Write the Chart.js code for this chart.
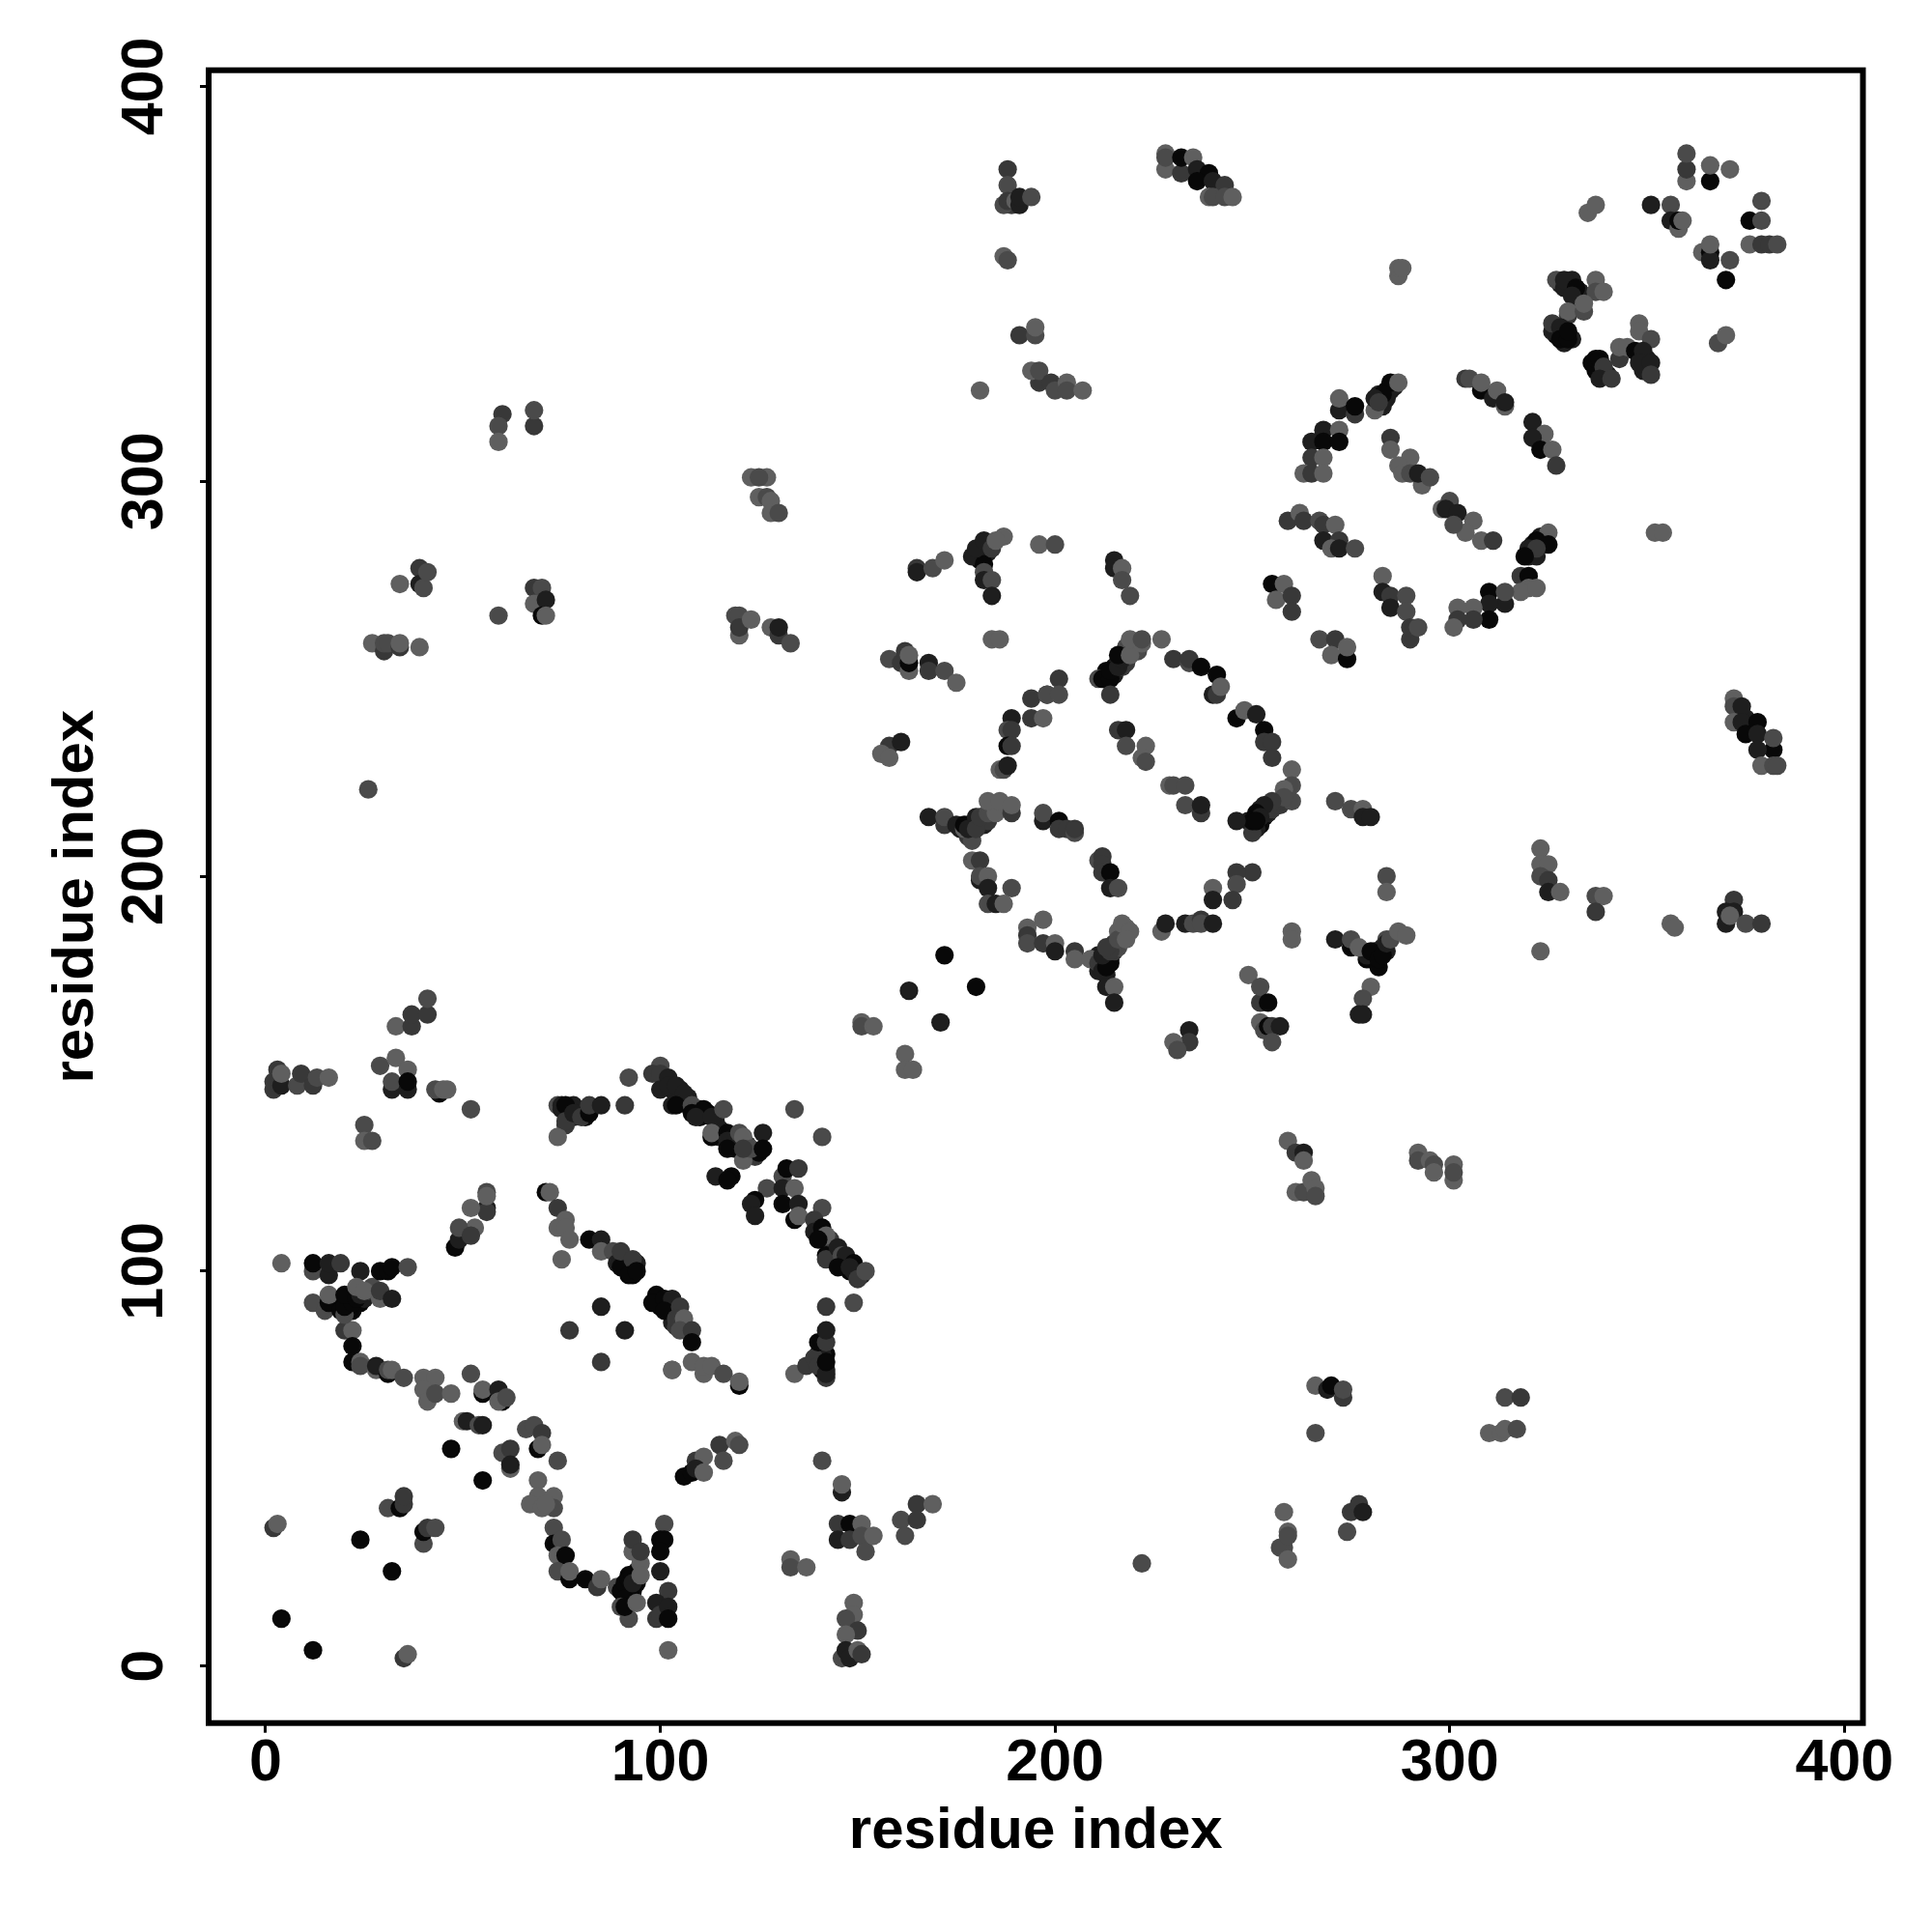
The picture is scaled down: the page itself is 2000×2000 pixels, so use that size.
<!DOCTYPE html>
<html>
<head>
<meta charset="utf-8">
<title>residue contacts</title>
<script src="https://cdn.jsdelivr.net/npm/chart.js@4/dist/chart.umd.min.js"></script>
<style>
  html, body { margin: 0; background: #fff; }
  #wrap { width: 2000px; height: 2000px; }
</style>
</head>
<body>
<div id="wrap"><canvas id="contactMap" width="2000" height="2000"></canvas></div>
<script>
// each contact is [residue i, residue j, strength], strength 0 (weak) .. 4 (strong)
const denseBands = [[18,91,4],[19,92,4],[21,90,4],[21,93,4],[22,90,4],[24,92,4],[25,93,3],[26,95,2],[27,96,1],[92,19,4],[92,20,4],[93,19,4],[94,21,4],[94,24,3],[91,19,4],[92,18,4],[92,23,4],[101,148,3],[103,146,4],[104,145,3],[105,146,3],[105,144,3],[106,143,4],[107,144,3],[107,142,3],[110,139,4],[110,141,3],[112,140,4],[114,138,3],[115,136,3],[115,134,3],[119,133,3],[119,131,4],[122,132,2],[124,129,2],[125,130,4],[140,111,3],[140,110,4],[141,108,3],[143,106,3],[143,108,2],[144,104,4],[146,103,4],[147,102,3],[148,100,4],[149,100,3],[151,99,3],[150,100,3],[91,103,3],[92,102,3],[92,101,3],[93,101,3],[94,102,3],[93,99,4],[100,93,4],[102,92,3],[102,90,4],[103,89,3],[103,87,3],[104,86,2],[100,91,4],[141,75,4],[142,75,3],[141,77,3],[142,79,4],[141,79,3],[140,79,3],[213,251,3],[213,252,4],[215,251,3],[215,253,4],[216,254,3],[217,253,2],[218,254,2],[218,256,1],[218,258,1],[219,258,1],[220,258,2],[221,257,1],[252,217,3],[252,213,4],[253,215,4],[254,217,3],[254,216,3],[255,217,2],[256,218,2],[257,218,2],[257,219,2],[249,214,3],[251,212,3],[176,212,3],[178,210,2],[178,213,3],[179,211,2],[179,213,3],[181,213,3],[182,213,3],[182,215,2],[183,214,2],[184,216,2],[185,218,1],[211,176,3],[211,180,3],[212,178,4],[213,175,3],[213,179,3],[214,179,3],[214,178,4],[215,181,2],[215,183,2],[216,182,1],[216,186,0],[218,187,0],[279,179,4],[280,179,4],[281,181,3],[281,180,4],[282,181,4],[283,182,3],[284,181,3],[279,180,3],[282,177,4],[284,184,1],[180,281,4],[181,282,4],[181,280,4],[183,284,3],[183,282,3],[282,322,3],[283,320,4],[284,323,4],[284,321,3],[285,323,3],[286,324,3],[283,319,3],[320,281,3],[321,282,4],[321,284,3],[323,284,4],[323,286,3],[324,285,3],[322,281,3],[328,350,3],[330,350,3],[331,351,3],[331,348,3],[333,348,3],[333,346,3],[327,337,4],[329,337,4],[327,339,4],[329,335,3],[331,336,3],[332,344,2],[348,332,3],[349,331,4],[350,329,3],[350,331,3],[349,328,3],[338,329,4],[339,327,3],[340,327,3],[336,330,4],[375,240,3],[376,238,4],[377,237,3],[77,141,4],[78,142,3],[79,141,3],[80,140,3],[81,139,4],[78,139,3],[189,370,2]];
const farLowerLeft = [[4,12,4],[12,4,4],[35,2,2],[36,3,0],[2,35,2],[3,36,0],[24,32,4],[32,24,4],[31,40,1],[34,40,4],[35,41,2],[35,43,2],[40,31,1],[40,34,4],[41,35,2],[43,35,1],[55,47,4],[47,55,4]];
const strandLowerLeft = [[52,74,1],[55,69,4],[55,70,0],[59,70,3],[60,67,4],[59,67,0],[61,68,1],[50,62,0],[51,62,3],[54,61,1],[55,61,3],[66,60,1],[68,61,1],[70,59,2],[69,55,4],[70,56,0],[74,52,1],[60,54,1],[62,55,2],[62,50,0],[62,51,3],[69,47,0],[69,43,0],[73,43,0],[73,40,1],[67,41,0],[70,40,0],[71,41,0],[73,35,1],[73,31,4],[75,32,1],[74,28,0],[76,28,4],[74,24,1],[77,22,4],[77,24,0],[81,22,4],[84,20,2],[85,22,0],[89,20,1],[90,19,4],[91,21,4],[92,22,4],[93,23,4],[91,17,4],[93,21,3],[95,26,0],[95,23,0],[93,29,0],[93,32,2],[95,29,2],[90,15,1],[92,12,1],[91,15,4],[94,16,0],[101,36,1],[100,32,4],[101,32,4],[100,29,4],[100,24,3],[102,19,2],[99,12,2],[99,16,3],[100,13,2],[102,15,3],[102,12,4],[102,4,0]];
const hookLowerLeft = [[20,85,2],[22,85,0],[22,81,4],[22,77,4],[24,77,0],[24,76,1],[28,75,0],[28,76,3],[31,74,4],[31,75,1],[32,75,0],[35,73,1],[40,73,0],[43,73,0],[40,70,0],[41,67,0],[43,69,1],[47,69,0],[4,102,0],[12,100,1],[12,102,4],[16,99,3],[16,102,3],[19,102,2],[24,100,3],[29,100,4],[31,100,4],[32,101,4],[36,101,1],[12,92,1],[15,90,1],[16,92,4],[16,94,0],[19,90,4],[20,89,1],[20,91,4],[22,92,4],[20,94,4],[23,93,4],[24,94,3],[23,96,0],[25,95,0],[29,93,0],[29,95,2],[32,93,3]];
const patchesUpperLeft = [[2,146,2],[2,148,2],[3,151,2],[4,147,3],[4,150,0],[8,147,1],[9,150,2],[12,147,2],[13,149,1],[16,149,0],[29,152,1],[33,154,0],[36,151,0],[32,146,3],[32,148,1],[36,146,3],[36,148,4],[33,162,0],[37,162,2],[37,165,2],[41,165,2],[41,169,1],[44,145,4],[43,146,1],[45,146,0],[46,146,0],[52,141,1],[25,137,1],[25,133,0],[27,133,1]];
const helixUpperA = [[76,137,2],[74,134,0],[74,142,1],[75,142,3],[75,141,3],[76,142,4],[76,138,2],[78,140,3],[80,139,2],[82,140,4],[82,142,2],[85,142,3],[91,142,2],[92,149,1],[71,120,4],[72,120,0],[74,116,2],[76,113,0],[74,111,0],[76,111,0],[77,108,0],[75,103,0],[82,108,4],[85,108,3],[85,105,0],[88,105,1],[89,102,3],[90,101,4],[90,105,2],[93,103,2],[92,99,4],[94,100,4],[85,91,3],[77,85,2],[91,85,3],[85,77,2],[103,75,0]];
const bridgeLower = [[56,116,3],[56,115,2],[56,120,1],[56,119,0],[52,116,0],[53,111,0],[48,106,4],[49,108,3],[49,111,1],[52,109,2]];
const helixUpperB = [[100,152,1],[98,150,2],[100,150,2],[102,149,3],[100,146,3],[102,147,3],[104,147,3],[106,145,3],[103,142,3],[104,142,4],[108,142,1],[108,140,4],[111,141,4],[109,139,3],[113,139,3],[116,141,1],[113,134,4],[113,135,0],[117,135,4],[117,133,3],[117,131,4],[120,135,1],[121,134,0],[126,135,3],[121,128,0],[123,131,1],[121,131,2],[126,131,4],[134,141,1],[141,134,1],[114,124,3],[118,124,4],[117,123,4],[131,124,1],[132,126,4],[135,126,2],[127,121,1],[131,121,3],[134,121,0],[131,117,4],[135,117,3],[124,118,4],[123,117,3],[124,114,3],[134,113,4],[135,114,0],[141,116,1],[139,113,2],[139,110,3],[141,111,4],[142,109,0],[140,108,4],[142,104,4],[142,103,2],[145,106,3],[146,104,1],[147,104,3],[145,101,4],[149,102,4],[148,101,3],[150,98,2],[152,100,1],[149,92,1],[142,91,2]];
const helixInner = [[99,94,4],[98,92,4],[101,93,4],[103,93,3],[101,90,4],[105,91,2],[104,88,2],[106,88,0],[105,85,1],[108,85,2],[108,82,4],[108,77,0],[103,75,0],[111,74,0],[111,76,0],[113,76,0],[116,74,1],[120,71,4],[120,72,0],[134,74,0],[137,76,2],[139,78,2],[140,76,2],[142,73,2],[142,74,3],[142,77,4],[140,82,4],[142,82,2],[142,85,3]];
const bottomMiddle = [[115,56,2],[119,57,0],[120,56,1],[116,52,1],[109,52,2],[111,53,0],[106,48,4],[108,49,4],[109,50,3],[111,49,0],[141,52,1],[146,44,3],[146,46,0],[145,36,2],[148,36,4],[145,32,3],[148,32,2],[151,36,0],[151,33,1],[152,29,1],[154,33,0],[133,27,0],[133,25,1],[137,25,0],[149,16,0],[149,13,0],[147,12,1],[150,9,2],[147,8,0],[146,2,1],[147,4,3],[148,2,3],[150,4,0],[151,3,2],[165,41,2],[169,41,0],[161,37,1],[165,37,2],[162,33,1]];
const bottomRight = [[222,26,1],[258,39,0],[259,34,0],[257,30,1],[258,30,1],[259,33,1],[259,27,0],[275,39,2],[277,41,2],[278,39,3],[274,34,1],[266,71,0],[269,70,3],[270,71,4],[273,68,2],[273,70,1],[266,59,1],[310,59,0],[313,59,0],[314,60,0],[317,60,1],[314,68,1],[318,68,2]];
const sparseMiddle = [[180,172,4],[172,180,4],[163,171,3],[171,163,3],[151,163,0],[151,162,1],[154,162,0],[162,155,0],[162,151,0],[164,151,0],[26,222,1],[259,133,0],[261,130,2],[263,130,3],[263,128,0],[261,120,0],[263,120,1],[265,123,0],[266,121,0],[266,119,1],[292,130,0],[292,128,1],[295,128,0],[296,127,1],[296,125,0],[301,127,0],[301,123,0],[301,125,1]];
const ringLower = [[193,187,0],[193,185,2],[193,183,1],[197,183,2],[200,183,0],[200,181,3],[205,181,2],[205,179,0],[197,189,0],[209,179,0],[211,178,2],[212,176,3],[213,177,4],[212,180,3],[214,181,2],[213,182,2],[216,184,1],[217,188,0],[219,186,0],[218,184,0],[213,172,3],[215,172,0],[215,168,3],[227,186,0],[228,188,3],[233,188,3],[235,188,1],[237,189,2],[237,188,1],[240,188,3],[260,186,0],[260,184,0],[271,184,3],[275,182,4],[275,184,1],[277,182,0],[280,181,4],[282,179,4],[283,180,4],[284,183,3],[285,184,1],[287,186,0],[289,185,0],[249,175,0],[252,168,2],[252,172,1],[254,168,4],[252,163,0],[253,161,1],[254,162,4],[255,162,2],[257,162,3],[255,158,1],[234,161,3],[234,158,2],[230,158,0],[231,156,1],[280,172,0],[278,169,1],[277,165,3],[278,165,3],[271,219,1],[275,217,1],[278,217,0],[278,215,3],[280,215,3],[284,200,1],[284,196,0]];
const ringMiddle = [[165,278,2],[165,277,3],[169,278,1],[172,280,0],[179,281,3],[182,279,4],[180,283,3],[182,285,3],[184,283,2],[182,277,1],[182,275,3],[184,275,1],[184,271,3],[187,286,0],[185,285,0],[196,284,0],[200,284,1],[215,280,3],[215,278,3],[217,278,0],[217,275,1],[219,271,1],[184,260,0],[186,260,0],[158,255,1],[161,254,2],[162,257,2],[163,252,0],[163,254,4],[163,256,0],[168,254,3],[168,252,2],[172,252,1],[175,249,0],[201,250,2],[194,245,2],[198,246,2],[198,246,1],[201,246,1],[194,240,2],[197,240,0],[189,240,3],[188,237,1],[189,237,2],[188,233,4],[189,233,2],[186,227,0],[187,227,1],[188,228,3],[158,233,2],[161,234,3],[156,231,0],[158,230,0],[211,250,1],[212,250,4],[214,250,4],[214,252,4],[216,253,3],[217,255,3],[216,256,4],[219,256,0],[219,260,0],[222,259,0],[222,260,1],[227,260,0],[214,246,2],[230,255,2],[234,254,1],[234,255,2],[237,253,4],[241,251,4],[240,246,3],[241,246,2],[242,248,0],[246,240,4],[248,242,0],[251,241,3],[253,237,4],[253,234,2],[255,234,2],[255,230,2],[216,237,2],[218,237,3],[218,233,1],[223,233,0],[222,230,0],[223,229,1],[229,223,0],[230,223,1],[233,223,1],[233,218,1],[237,216,2],[237,218,3],[260,227,0],[260,223,1],[258,222,0],[260,219,1],[258,220,1],[255,219,2],[253,218,3],[251,216,4],[252,215,3],[250,211,2],[250,214,4],[251,214,4],[246,214,3]];
const ringInner = [[168,215,3],[172,213,2],[172,215,1],[175,213,3],[177,212,0],[177,213,4],[179,209,1],[178,212,3],[180,215,3],[180,212,2],[181,215,2],[183,216,1],[185,216,0],[183,219,0],[186,219,0],[189,216,2],[189,218,0],[197,214,3],[197,216,1],[201,214,4],[201,212,2],[203,212,2],[205,211,1],[205,212,2],[179,204,0],[181,204,2],[181,199,3],[181,200,1],[183,200,0],[183,197,3],[189,197,1],[183,193,1],[185,193,3],[187,193,0],[211,204,1],[212,205,2],[212,203,2],[212,201,2],[214,201,4],[214,197,3],[216,197,1],[250,201,2],[246,201,2],[240,197,0],[246,198,1],[245,194,2],[240,194,3]];
const topMiddle = [[188,379,2],[188,375,1],[187,370,1],[188,371,2],[190,371,0],[191,370,3],[191,372,3],[194,372,1],[187,357,0],[188,356,1],[191,337,2],[195,337,1],[195,339,0],[181,323,0],[196,325,2],[194,328,0],[196,328,1],[199,325,2],[200,323,1],[203,325,0],[203,323,1],[207,323,0],[228,379,0],[228,383,0],[228,382,1],[232,378,2],[232,382,4],[235,382,0],[236,379,3],[239,378,4],[236,376,4],[240,376,3],[243,375,2],[239,372,0],[240,372,1],[243,372,1],[245,372,0]];
const topLeft = [[60,317,2],[59,314,1],[59,310,0],[68,314,2],[68,318,1],[123,301,0],[127,301,0],[125,301,1],[125,296,0],[127,296,1],[128,295,0],[128,292,0],[130,292,1],[34,274,0],[39,278,2],[39,274,3],[40,273,1],[41,277,1],[68,273,2],[70,273,1],[68,269,0],[71,270,3],[70,266,4],[71,266,0],[59,266,1],[27,259,0],[30,257,2],[30,259,1],[31,259,1],[34,258,2],[34,259,0],[39,258,0],[119,266,1],[120,266,1],[120,261,0],[120,263,2],[123,265,0],[128,263,0],[130,261,2],[130,263,3],[133,259,1]];
const cornerRight = [[360,376,0],[360,379,2],[360,383,1],[366,376,4],[366,380,0],[371,379,0],[335,368,0],[337,370,0],[351,370,3],[356,370,1],[356,366,3],[358,364,0],[358,366,4],[359,366,0],[379,371,1],[376,366,4],[379,366,1],[376,360,0],[379,360,2],[381,360,2],[383,360,1],[364,358,0],[366,358,4],[366,356,3],[366,360,0],[371,356,1],[370,351,4],[287,352,0],[287,354,0],[288,354,0],[337,351,0],[337,348,1],[339,348,0],[327,351,1],[329,349,3],[329,351,3],[332,349,4],[331,347,3],[330,342,2],[330,343,0],[334,343,1],[334,345,0],[326,338,3],[326,340,2],[328,339,3],[328,336,4],[330,336,4],[330,338,4],[348,340,0],[348,338,0],[351,336,1],[343,331,2],[343,334,0],[345,334,0],[337,328,4],[337,331,4],[338,331,4],[339,329,2],[338,326,3],[341,326,2],[347,333,4],[349,333,3],[348,330,3],[351,330,3],[351,327,2],[368,335,1],[370,337,0],[352,287,0],[354,287,0]];
const barrelUpper = [[304,326,2],[305,326,1],[308,323,4],[308,325,0],[311,321,3],[312,323,0],[314,319,0],[314,320,3],[321,315,3],[324,312,0],[321,311,3],[323,308,4],[326,308,0],[327,304,2],[285,325,4],[287,325,0],[283,322,4],[281,318,0],[281,321,3],[282,320,2],[272,318,3],[272,321,0],[276,317,2],[276,319,4],[268,313,3],[272,313,0],[265,310,3],[268,310,4],[272,310,4],[265,306,2],[268,306,0],[263,302,0],[265,302,2],[268,302,0],[285,311,2],[285,308,0],[290,306,0],[287,304,0],[288,302,0],[290,302,1],[293,299,0],[292,302,3],[295,301,1],[298,293,0],[300,295,1],[299,293,3],[302,292,3],[306,290,0],[304,287,0],[301,289,1],[308,285,0],[311,285,2]];
const barrelLower = [[325,287,0],[322,285,4],[325,284,4],[320,283,3],[322,283,2],[319,281,4],[318,276,2],[320,276,4],[320,273,0],[318,272,0],[322,273,0],[310,272,4],[314,269,3],[314,272,1],[310,269,3],[310,265,4],[306,268,0],[302,268,0],[306,265,2],[302,265,2],[301,263,0],[259,290,2],[262,292,0],[263,290,2],[267,290,1],[268,289,2],[271,289,0],[268,285,3],[272,285,2],[270,283,0],[272,283,3],[276,283,1],[255,274,4],[258,274,0],[256,270,0],[260,271,2],[260,267,2],[283,276,0],[283,272,3],[285,271,2],[285,268,3],[289,271,1],[289,267,1],[290,260,2],[290,263,2],[292,263,1],[267,260,1],[271,260,2],[270,256,0],[274,255,4],[274,258,0]];
const rightSide = [[372,245,0],[372,243,1],[374,243,3],[372,239,0],[374,239,3],[378,239,4],[375,236,4],[378,236,3],[382,232,4],[382,235,1],[378,232,3],[379,228,0],[382,228,1],[383,228,1],[323,207,0],[323,203,0],[325,203,0],[323,200,1],[325,199,2],[325,196,3],[328,196,0],[337,195,1],[339,195,0],[337,191,2],[356,188,0],[357,187,0],[372,194,2],[370,188,3],[370,191,3],[372,191,3],[371,190,0],[375,188,1],[379,188,2],[323,181,0]];

const xTicks = [0, 100, 200, 300, 400];
const yTicks = [0, 100, 200, 300, 400];
const axisLabel = 'residue index';

const contacts = [].concat(denseBands, farLowerLeft, strandLowerLeft, hookLowerLeft, patchesUpperLeft, helixUpperA, bridgeLower,
    helixUpperB, helixInner, bottomMiddle, bottomRight, sparseMiddle, ringLower, ringMiddle, ringInner,
    topMiddle, topLeft, cornerRight, barrelUpper, barrelLower, rightSide);

const strengthGrey = ['#5f5f5f', '#4a4a4a', '#383838', '#1e1e1e', '#080808'];
const labelFont = '"Liberation Sans", Arial, sans-serif';

// R style box round the plot
const boxPlugin = {
    id: 'box',
    afterDraw: function(chart) {
        const a = chart.chartArea;
        const c = chart.ctx;
        c.save();
        c.lineWidth = 6;
        c.strokeStyle = '#000';
        c.strokeRect(a.left, a.top, a.right - a.left, a.bottom - a.top);
        c.restore();
    }
};

new Chart(document.getElementById('contactMap').getContext('2d'), {
    type: 'scatter',
    data: {
        datasets: [{
            data: contacts.map(function(p) { return { x: p[0], y: p[1] }; }),
            pointRadius: 9.6,
            pointBorderWidth: 0,
            pointBackgroundColor: contacts.map(function(p) { return strengthGrey[p[2]]; })
        }]
    },
    options: {
        responsive: false,
        animation: false,
        layout: { padding: { top: 72.7, right: 71.5, left: 0, bottom: 0 } },
        plugins: { legend: { display: false }, tooltip: { enabled: false } },
        scales: {
            x: {
                type: 'linear',
                min: -14.44,
                max: 404.7,
                afterBuildTicks: function(s) { s.ticks = xTicks.map(function(v) { return { value: v }; }); },
                afterFit: function(s) { s.height = 216.3; },
                grid: { drawOnChartArea: false, tickLength: 10, tickWidth: 3, tickColor: '#000' },
                border: { display: false },
                ticks: { autoSkip: false, maxRotation: 0, padding: -4, color: '#000', font: { family: labelFont, size: 61, weight: 'bold' } },
                title: { display: true, text: axisLabel, color: '#000', padding: { top: 0, bottom: 68 }, font: { family: labelFont, size: 60, weight: 'bold' } }
            },
            y: {
                type: 'linear',
                min: -14.43,
                max: 404.1,
                afterBuildTicks: function(s) { s.ticks = yTicks.map(function(v) { return { value: v }; }); },
                afterFit: function(s) { s.width = 216; },
                grid: { drawOnChartArea: false, tickLength: 9, tickWidth: 3, tickColor: '#000' },
                border: { display: false },
                ticks: { autoSkip: false, minRotation: 90, maxRotation: 90, crossAlign: 'center', padding: 5, color: '#000', font: { family: labelFont, size: 61, weight: 'bold' } },
                title: { display: true, text: axisLabel, color: '#000', padding: { top: 43, bottom: 0 }, font: { family: labelFont, size: 60, weight: 'bold' } }
            }
        }
    },
    plugins: [boxPlugin]
});
</script>
</body>
</html>
